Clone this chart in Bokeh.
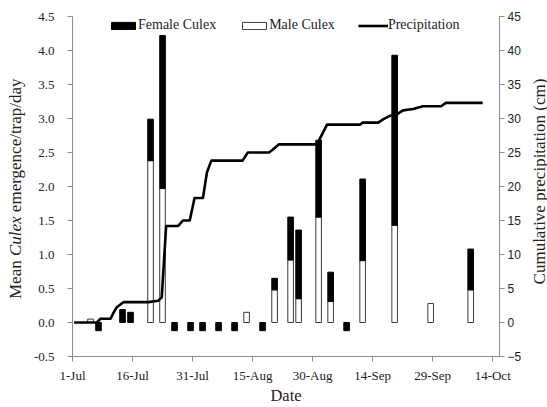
import math
from bokeh.plotting import figure
from bokeh.layouts import row
from bokeh.models import (Range1d, LinearAxis, FixedTicker, ColumnDataSource, Legend,
                          LegendItem, NumeralTickFormatter)
from bokeh.core.properties import value
from bokeh.embed import file_html
from bokeh.resources import INLINE

# ---------------- data ----------------
tick_days = [0, 15, 30, 45, 60, 75, 90, 105]
tick_labels = ["1-Jul", "16-Jul", "31-Jul", "15-Aug", "30-Aug", "14-Sep", "29-Sep", "14-Oct"]

# sampling dates, days after 1-Jul
sample_days = [4, 6, 12, 14, 19, 22, 25, 29, 32, 36, 40, 43, 47, 50, 54, 56, 61, 64, 68, 72, 80, 89, 99]
male = [0.05, 0, 0, 0, 2.38, 1.97, 0, 0, 0, 0, 0, 0.15, 0, 0.48, 0.92, 0.35, 1.55, 0.31, 0, 0.91, 1.43, 0.28, 0.48]
female = [0, -0.12, 0.19, 0.15, 0.61, 2.25, -0.12, -0.12, -0.12, -0.12, -0.12, 0, -0.12, 0.17, 0.63, 1.01,
          1.13, 0.43, -0.12, 1.20, 2.50, 0, 0.60]

# cumulative precipitation (cm), days after 1-Jul
precip_day = [0.4, 6.1, 7.0, 9.5, 10.3, 11.0, 12.3, 12.8, 19.0, 21.4, 22.3, 23.4, 26.4, 27.6, 29.3, 30.5,
              32.6, 33.6, 34.7, 42.5, 43.8, 49.1, 50.0, 51.6, 61.1, 63.6, 71.9, 72.5, 76.4, 77.7, 79.3,
              81.0, 82.6, 85.1, 87.6, 92.1, 93.3, 102.5]
precip_cm = [0, 0, 0.55, 0.55, 1.5, 2.2, 2.8, 3.0, 3.0, 3.2, 3.7, 14.2, 14.2, 15.0, 15.0, 18.3, 18.3, 22.1,
             23.8, 23.8, 25.0, 25.0, 25.4, 26.2, 26.2, 29.1, 29.1, 29.4, 29.4, 29.9, 30.4, 30.6, 31.2,
             31.4, 31.8, 31.8, 32.3, 32.3]

# ---------------- style ----------------
SERIF = "Liberation Serif"
SANS = "Liberation Sans"
AX = "#8c8c8c"
TXT = "#222222"
H = 407
TOP, BOTTOM = 16, 51            # frame borders (frame spans y = 16 .. 356 on the page)
LEFT_W, MAIN_W, RIGHT_W = 30, 500, 17
X_END = 106.7


def side_fig(w):
    # y range in (negated) page pixels so text can be placed by page position
    f = figure(width=w, height=H, x_range=Range1d(0, w), y_range=Range1d(-(H - BOTTOM), -TOP),
               x_axis_location=None, y_axis_location=None, output_backend="svg",
               toolbar_location=None, min_border_left=0, min_border_right=0,
               min_border_top=TOP, min_border_bottom=BOTTOM)
    f.outline_line_color = None
    f.grid.visible = False
    return f


# ---------------- main figure ----------------
p = figure(width=MAIN_W, height=H, x_range=Range1d(0, X_END), y_range=Range1d(-0.5, 4.5),
           output_backend="svg", toolbar_location=None,
           min_border_left=38, min_border_right=31, min_border_top=TOP, min_border_bottom=BOTTOM)
p.extra_y_ranges = {"precip": Range1d(-5, 45)}
p.xgrid.grid_line_color = None
p.ygrid.grid_line_color = None
p.outline_line_color = None

bw = 1.4
m_x = [d + 0.5 for d, m in zip(sample_days, male) if m > 0]
m_top = [m for m in male if m > 0]
f_x = [d + 0.5 for d, f in zip(sample_days, female) if f != 0]
f_bot = [m for m, f in zip(male, female) if f != 0]
f_top = [m + f for m, f in zip(male, female) if f != 0]

rm = p.vbar(x="x", top="top", bottom=0, width=bw, source=ColumnDataSource(dict(x=m_x, top=m_top)),
            fill_color="white", line_color="#3a3a3a", line_width=1)
rf = p.vbar(x="x", top="top", bottom="bottom", width=bw,
            source=ColumnDataSource(dict(x=f_x, top=f_top, bottom=f_bot)),
            fill_color="black", line_color="black", line_width=1)
rl = p.line(precip_day, precip_cm, y_range_name="precip", line_color="black", line_width=2.6,
            line_join="round")

xa = p.xaxis[0]
xa.ticker = FixedTicker(ticks=tick_days)
xa.major_label_overrides = {d: l for d, l in zip(tick_days, tick_labels)}
ya = p.yaxis[0]
ya.ticker = FixedTicker(ticks=[-0.5 + 0.5 * i for i in range(11)])
ya.formatter = NumeralTickFormatter(format="0.0")
ra = LinearAxis(y_range_name="precip", ticker=FixedTicker(ticks=list(range(-5, 50, 5))))
p.add_layout(ra, "right")

for ax in (xa, ya, ra):
    ax.axis_line_color = AX
    ax.major_tick_line_color = AX
    ax.minor_tick_line_color = None
    ax.major_tick_in = 0
    ax.major_tick_out = 5
    ax.major_label_text_color = TXT
xa.major_label_text_font = SERIF
xa.major_label_text_font_size = "13px"
xa.major_label_standoff = 6
xa.axis_label = "Date"
xa.axis_label_text_font = SERIF
xa.axis_label_text_font_size = "16.5px"
xa.axis_label_text_font_style = "normal"
xa.axis_label_text_color = TXT
xa.axis_label_standoff = 0
ya.major_label_text_font = SERIF
ya.major_label_text_font_size = "13px"
ya.major_label_standoff = 13
ra.major_label_text_font = SANS
ra.major_label_text_font_size = "12px"
ra.major_label_standoff = 3

legend = Legend(items=[LegendItem(label="Female Culex", renderers=[rf]),
                       LegendItem(label="Male Culex", renderers=[rm]),
                       LegendItem(label="Precipitation", renderers=[rl])],
                orientation="horizontal", location=(36, 323),
                border_line_color=None, background_fill_alpha=0, padding=0, margin=0,
                spacing=23, glyph_width=30, glyph_height=9, label_standoff=0, label_height=16,
                label_text_font=SERIF, label_text_font_size="14px", label_text_color=TXT)
p.add_layout(legend)

# ---------------- left title (mixed italic) ----------------
fs = 17
left = side_fig(LEFT_W)
start = -298.5
parts = [("Mean", "normal", 0.0),
         ("Culex", "italic", 2.527 * fs),
         ("emergence/trap/day", "normal", (2.527 + 2.583) * fs)]
for txt, style, off in parts:
    left.text(x=[15], y=[start + off], text=[txt], angle=math.pi / 2, text_align="left",
              text_baseline="middle", text_font=value(SERIF), text_font_size=f"{fs}px",
              text_font_style=style, text_color=TXT)

# ---------------- right title ----------------
right = side_fig(RIGHT_W)
right.text(x=[8.5], y=[-181], text=["Cumulative precipitation (cm)"], angle=math.pi / 2,
           text_align="center", text_baseline="middle", text_font=value(SERIF),
           text_font_size=f"{fs}px", text_color=TXT)

layout = row(left, p, right)
open("out.html", "w").write(file_html(layout, INLINE))
